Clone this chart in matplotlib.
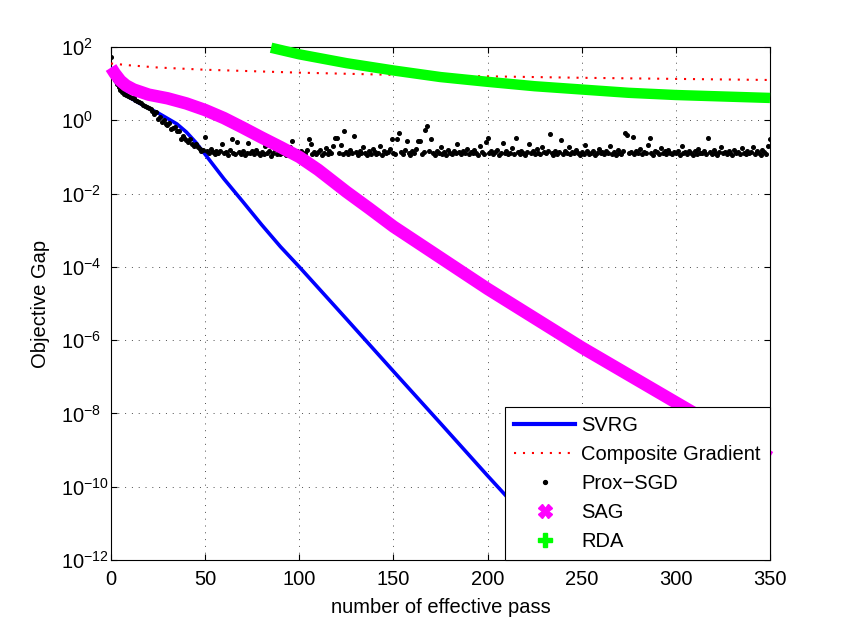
import matplotlib.pyplot as plt
import numpy as np
from matplotlib.lines import Line2D
from matplotlib.ticker import NullLocator


# objective gap values are stored as log10 exponents
SVRG_PASS = [0, 3, 6, 10, 15, 20, 25, 30, 35, 40, 45, 50, 60, 70, 80, 90, 100,
             125, 150, 175, 200, 225, 250]
SVRG_LOG_GAP = [1.40, 1.00, 0.80, 0.62, 0.47, 0.33, 0.20, 0.05, -0.10, -0.32, -0.60,
                -0.93, -1.60, -2.22, -2.85, -3.45, -4.00, -5.42, -6.85, -8.27, -9.70,
                -11.10, -12.50]

CG_PASS = [0, 10, 25, 50, 100, 150, 200, 250, 300, 350]
CG_LOG_GAP = [1.55, 1.50, 1.44, 1.38, 1.30, 1.24, 1.20, 1.16, 1.13, 1.10]

SAG_PASS = [0, 2, 5, 8, 12, 20, 30, 40, 50, 60, 70, 80, 90, 100, 110, 125, 137,
            150, 175, 200, 225, 250, 275, 300, 325, 350]
SAG_LOG_GAP = [1.44, 1.28, 1.08, 0.95, 0.84, 0.70, 0.60, 0.46, 0.28, 0.06, -0.20,
               -0.47, -0.73, -1.00, -1.35, -1.95, -2.40, -2.90, -3.75, -4.60, -5.40,
               -6.20, -6.95, -7.70, -8.45, -9.20]

RDA_PASS = [85, 90, 100, 125, 150, 175, 200, 225, 250, 275, 300, 325, 350]
RDA_LOG_GAP = [1.98, 1.92, 1.80, 1.56, 1.36, 1.18, 1.05, 0.93, 0.84, 0.75, 0.69,
               0.65, 0.61]

# one Prox-SGD point per pass, 0..350
PROX_SGD_LOG_GAP = [
    1.74, 1.30, 1.10, 0.98, 0.90, 0.83, 0.78, 0.72, 0.69, 0.66,
    0.63, 0.62, 0.60, 0.56, 0.53, 0.50, 0.47, 0.41, 0.40, 0.36,
    0.33, 0.30, 0.26, 0.18, 0.22, 0.04, 0.10, -0.05, 0.02, -0.10,
    -0.14, -0.08, -0.23, -0.20, -0.18, -0.30, -0.28, -0.50, -0.42, -0.48,
    -0.55, -0.60, -0.52, -0.64, -0.70, -0.66, -0.73, -0.78, -0.83, -0.80,
    -0.46, -0.83, -0.88, -0.78, -0.86, -0.92, -0.85, -0.90, -0.83, -0.64,
    -0.90, -0.87, -0.95, -0.82, -0.50, -0.88, -0.93, -0.59, -0.86, -0.91,
    -0.84, -0.96, -0.88, -0.62, -0.90, -0.85, -0.93, -0.80, -0.89, -0.95,
    -0.87, -0.92, -0.70, -0.88, -0.84, -0.97, -0.89, -0.78, -0.91, -0.86,
    -0.93, -0.88, -0.84, -0.95, -0.90, -0.72, -0.56, -0.87, -0.92, -0.85,
    -0.90, -0.83, -0.94, -0.88, -0.80, -0.50, -0.64, -0.91, -0.86, -0.93,
    -0.87, -0.82, -0.95, -0.89, -0.76, -0.92, -0.85, -0.90, -0.70, -0.47,
    -0.48, -0.88, -0.68, -0.93, -0.30, -0.86, -0.91, -0.80, -0.89, -0.44,
    -0.87, -0.94, -0.83, -0.90, -0.74, -0.88, -0.95, -0.85, -0.91, -0.79,
    -0.86, -0.92, -0.88, -0.69, -0.94, -0.84, -0.90, -0.87, -0.78, -0.52,
    -0.89, -0.93, -0.50, -0.36, -0.86, -0.91, -0.82, -0.56, -0.88, -0.94,
    -0.85, -0.90, -0.79, -0.56, -0.56, -0.92, -0.87, -0.27, -0.15, -0.83,
    -0.52, -0.89, -0.94, -0.84, -0.88, -0.72, -0.91, -0.86, -0.95, -0.80,
    -0.88, -0.93, -0.85, -0.90, -0.66, -0.87, -0.92, -0.84, -0.89, -0.78,
    -0.93, -0.86, -0.90, -0.82, -0.88, -0.94, -0.70, -0.87, -0.91, -0.58,
    -0.47, -0.89, -0.84, -0.92, -0.87, -0.80, -0.94, -0.88, -0.62, -0.90,
    -0.85, -0.93, -0.88, -0.76, -0.91, -0.47, -0.86, -0.92, -0.84, -0.89,
    -0.95, -0.87, -0.66, -0.90, -0.85, -0.93, -0.79, -0.88, -0.92, -0.72,
    -0.86, -0.90, -0.83, -0.37, -0.89, -0.94, -0.85, -0.91, -0.87, -0.55,
    -0.92, -0.84, -0.89, -0.74, -0.93, -0.86, -0.90, -0.81, -0.88, -0.95,
    -0.87, -0.91, -0.68, -0.85, -0.92, -0.89, -0.83, -0.94, -0.88, -0.77,
    -0.90, -0.86, -0.93, -0.84, -0.89, -0.71, -0.91, -0.87, -0.95, -0.82,
    -0.88, -0.92, -0.85, -0.35, -0.40, -0.90, -0.87, -0.45, -0.93, -0.84,
    -0.89, -0.79, -0.92, -0.86, -0.90, -0.68, -0.48, -0.88, -0.94, -0.83,
    -0.87, -0.91, -0.75, -0.89, -0.85, -0.93, -0.80, -0.88, -0.92, -0.86,
    -0.90, -0.84, -0.94, -0.70, -0.88, -0.86, -0.91, -0.83, -0.89, -0.95,
    -0.85, -0.92, -0.78, -0.88, -0.90, -0.84, -0.93, -0.48, -0.87, -0.91,
    -0.82, -0.89, -0.94, -0.86, -0.73, -0.90, -0.87, -0.92, -0.84, -0.88,
    -0.95, -0.81, -0.89, -0.86, -0.91, -0.76, -0.88, -0.93, -0.85, -0.90,
    -0.87, -0.72, -0.92, -0.84, -0.89, -0.94, -0.80, -0.86, -0.91, -0.70,
    -0.51,
]

Y_TICK_EXPONENTS = [2, 0, -2, -4, -6, -8, -10, -12]
X_TICKS = [0, 50, 100, 150, 200, 250, 300, 350]

BLUE = "#0000ff"
RED = "#ff0000"
MAGENTA = "#ff00ff"
GREEN = "#00ff00"


def setup_style() -> None:
    plt.rcParams.update(
        {
            "font.family": ["Liberation Sans", "DejaVu Sans"],
            "font.size": 14.5,
            "mathtext.fontset": "custom",
            "mathtext.rm": "Liberation Sans",
            "mathtext.it": "Liberation Sans:italic",
            "mathtext.bf": "Liberation Sans:bold",
            "axes.linewidth": 0.8,
            "xtick.direction": "in",
            "ytick.direction": "in",
            "xtick.top": True,
            "ytick.right": True,
            "xtick.major.size": 4,
            "ytick.major.size": 4,
            "xtick.major.width": 0.8,
            "ytick.major.width": 0.8,
        }
    )


def gap(values):
    return 10.0 ** np.asarray(values, dtype=float)


def plot() -> None:
    setup_style()
    fig = plt.figure(figsize=(8.5, 6.31), dpi=100)
    ax = fig.add_axes([0.1306, 0.1125, 0.7753, 0.8130])

    ax.semilogy(SVRG_PASS, gap(SVRG_LOG_GAP), color=BLUE, lw=2.6, zorder=3)
    ax.semilogy(CG_PASS, gap(CG_LOG_GAP), color=RED, lw=1.5,
                linestyle=(0, (1, 3.3)), zorder=3)
    sgd_pass = np.arange(len(PROX_SGD_LOG_GAP))
    ax.semilogy(sgd_pass, gap(PROX_SGD_LOG_GAP), ls="none", marker="o", ms=2.6,
                color="black", zorder=4)
    ax.semilogy(SAG_PASS, gap(SAG_LOG_GAP), color=MAGENTA, lw=9,
                solid_capstyle="butt", zorder=5, clip_on=False)
    ax.semilogy(RDA_PASS, gap(RDA_LOG_GAP), color=GREEN, lw=7.5,
                solid_capstyle="butt", zorder=6, clip_on=False)

    ax.set_xlim(0, 350)
    ax.set_ylim(1e-12, 1e2)
    ax.set_xticks(X_TICKS)
    ax.set_yticks([10.0 ** e for e in Y_TICK_EXPONENTS])
    ax.yaxis.set_minor_locator(NullLocator())
    # MATLAB style: y tick labels share a common left edge
    ax.tick_params(axis="y", pad=36)
    for label in ax.get_yticklabels():
        label.set_horizontalalignment("left")
    ax.tick_params(axis="x", pad=7)
    ax.grid(True, which="major", linestyle=(0, (1, 6)), color="0.3", lw=0.7)
    ax.set_axisbelow(True)

    ax.set_xlabel("number of effective pass", labelpad=7)
    ax.set_ylabel("Objective Gap", labelpad=8)

    handles = [
        Line2D([], [], color=BLUE, lw=3, label="SVRG"),
        Line2D([], [], color=RED, lw=1.5, linestyle=(0, (1, 3.3)),
               label="Composite Gradient"),
        Line2D([], [], ls="none", marker="o", ms=2.8, color="black", label="Prox\u2212SGD"),
        Line2D([], [], ls="none", marker="X", ms=10, color=MAGENTA, mec=MAGENTA,
               label="SAG"),
        Line2D([], [], ls="none", marker="P", ms=10, color=GREEN, mec=GREEN,
               label="RDA"),
    ]
    leg = ax.legend(
        handles=handles,
        loc="lower right",
        borderaxespad=0,
        fancybox=False,
        edgecolor="black",
        framealpha=1,
        handlelength=3.05,
        handletextpad=0.3,
        labelspacing=0.5,
        borderpad=0.45,
    )
    leg.get_frame().set_linewidth(0.8)
    leg.set_zorder(10)

    fig.savefig("out.png", dpi=100)
    plt.close(fig)


if __name__ == "__main__":
    plot()
